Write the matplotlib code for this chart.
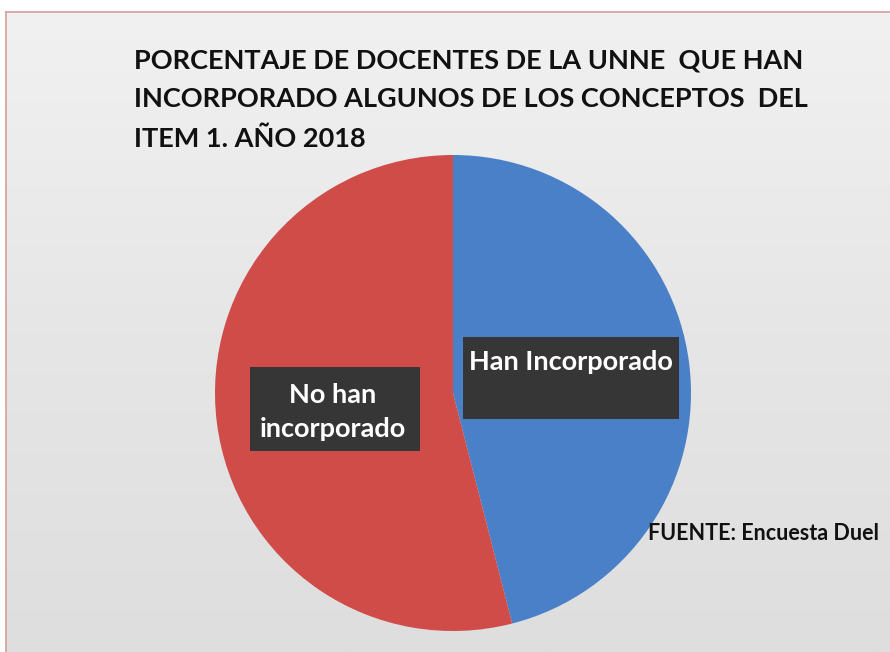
import matplotlib.pyplot as plt
import numpy as np
from matplotlib.patches import Rectangle
from matplotlib.colors import LinearSegmentedColormap

# datos del grafico
categorias = ['Han Incorporado', 'No han incorporado']
porcentajes = [46, 54]
colores = ['#4a80c8', '#cf4c48']

titulo = ('PORCENTAJE DE DOCENTES DE LA UNNE  QUE HAN\n'
          'INCORPORADO ALGUNOS DE LOS CONCEPTOS  DEL\n'
          'ITEM 1. AÑO 2018')
fuente = 'FUENTE: Encuesta Duel'

W, H = 890, 652
fig = plt.figure(figsize=(W / 100, H / 100), dpi=100)
fig.patch.set_facecolor('white')


def fx(px):
    return px / W


def fy(py):
    return 1 - py / H


# fondo con degradado suave y marco
bg = fig.add_axes([fx(6), 0, 1 - fx(6), fy(12)], zorder=-10)
grad = np.linspace(0, 1, 256).reshape(-1, 1)
cmap = LinearSegmentedColormap.from_list('fondo', ['#f1f1f1', '#e6e6e6', '#dedede'])
bg.imshow(grad, aspect='auto', cmap=cmap, extent=[0, 1, 0, 1])
bg.set_xticks([])
bg.set_yticks([])
for lado, s in bg.spines.items():
    s.set_color('#d9a3a3')
    s.set_linewidth(1.3)
    if lado in ('right', 'bottom'):
        s.set_visible(False)

# torta
cx, cy, r = 453, 393, 238
ax = fig.add_axes([fx(cx - r), fy(cy + r), 2 * r / W, 2 * r / H])
ax.pie(porcentajes, colors=colores, startangle=90, counterclock=False,
       radius=1, wedgeprops=dict(linewidth=0))
ax.set_xlim(-1, 1)
ax.set_ylim(-1, 1)
ax.set_aspect('auto')
ax.axis('off')
ax.patch.set_alpha(0)

fig.text(fx(134), fy(49), titulo, ha='left', va='top', fontsize=19.5,
         fontweight='bold', family='Lato', color='#111111', linespacing=1.72)

# etiquetas con caja oscura
fig.add_artist(Rectangle((fx(463), fy(419)), fx(216), 82 / H, transform=fig.transFigure,
                         facecolor='#363636', edgecolor='none', zorder=3))
fig.text(fx(571), fy(362), categorias[0], ha='center', va='center', fontsize=19.5,
         color='white', family='Lato', fontweight='bold', zorder=4)

fig.add_artist(Rectangle((fx(250), fy(451)), fx(170), 84 / H, transform=fig.transFigure,
                         facecolor='#363636', edgecolor='none', zorder=3))
fig.text(fx(333), fy(412), 'No han\nincorporado', ha='center', va='center', fontsize=19.5,
         color='white', family='Lato', fontweight='bold', linespacing=1.5, zorder=4)

fig.text(fx(648), fy(534), fuente, ha='left', va='center', fontsize=15.5,
         fontweight='bold', family='Lato', color='#111111', zorder=4)

fig.savefig('out.png', dpi=100, facecolor=fig.get_facecolor())
